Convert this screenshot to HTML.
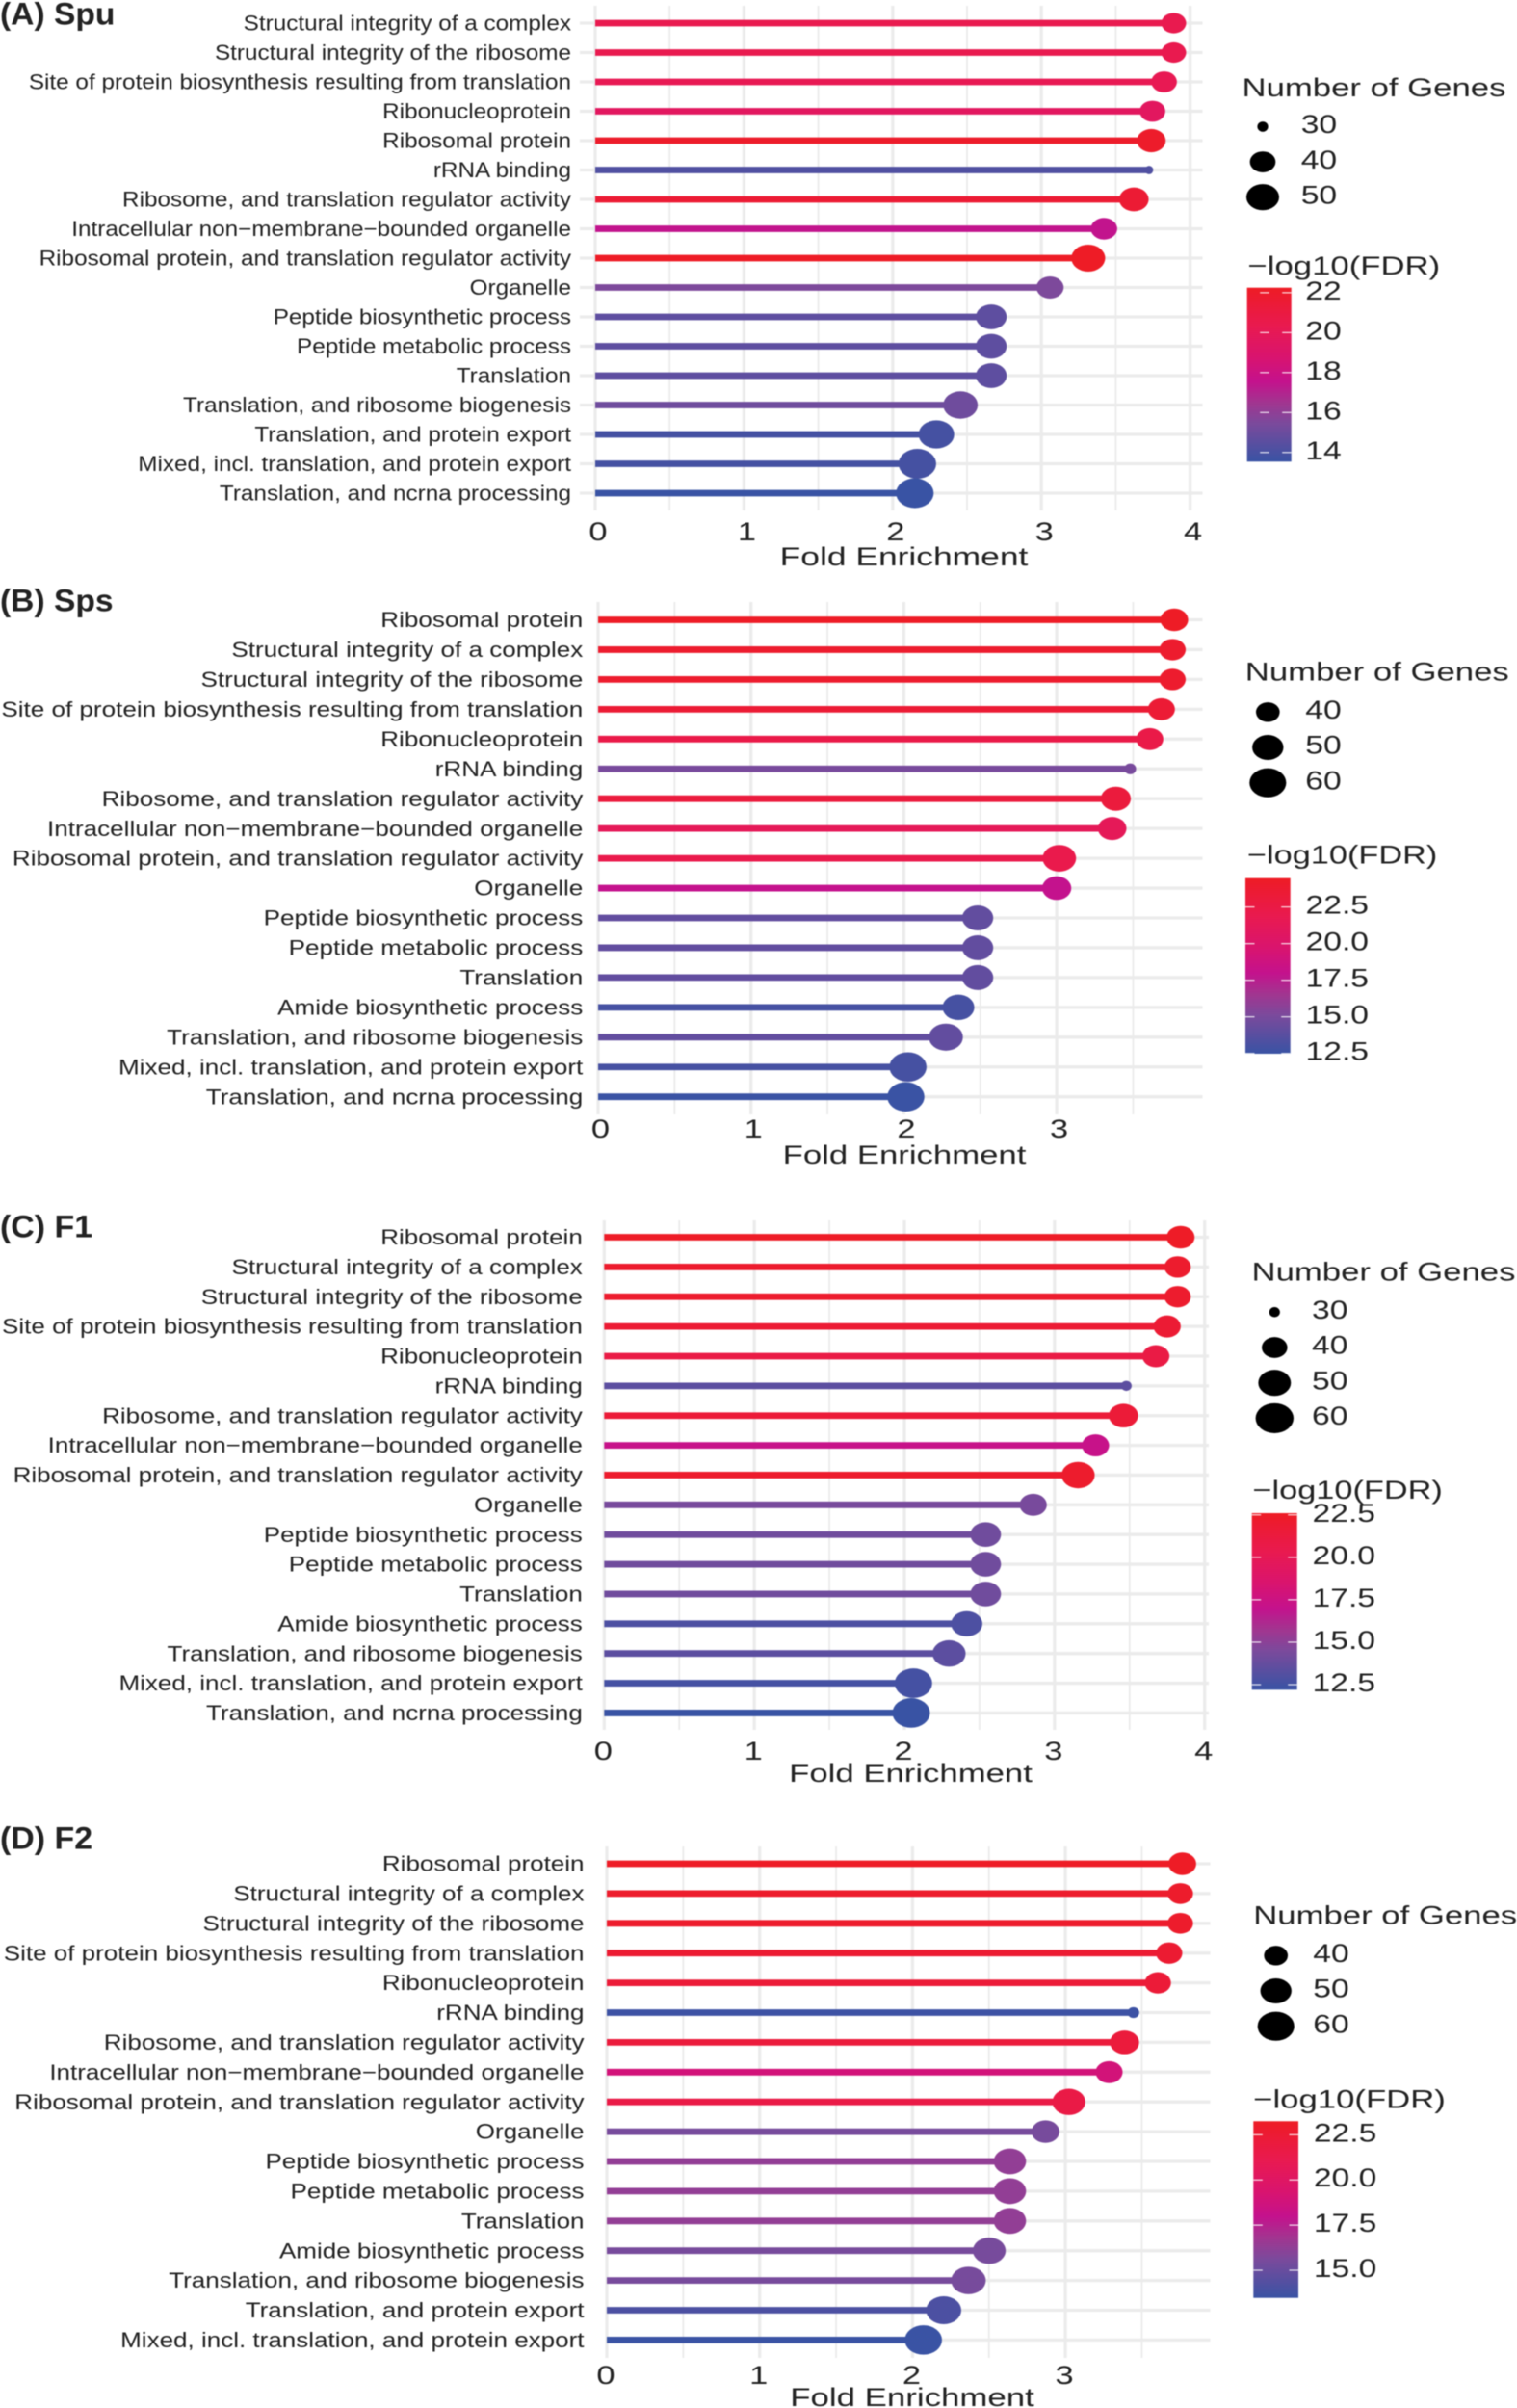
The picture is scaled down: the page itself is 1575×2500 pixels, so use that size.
<!DOCTYPE html>
<html lang="en">
<head>
<meta charset="utf-8">
<title>Fold enrichment lollipop charts</title>
<style>
html,body{margin:0;padding:0;background:#fff;}
svg{display:block;filter:blur(0.4px);}
text{font-family:"Liberation Sans",Arial,sans-serif;fill:#222;}
</style>
</head>
<body>
<svg id="figure" xmlns="http://www.w3.org/2000/svg" width="1575" height="2500" viewBox="0 0 1575 2500">
  <defs>
    <linearGradient id="fdrGradient" x1="0" y1="1" x2="0" y2="0">
      <stop offset="0" stop-color="#3953a4"/>
      <stop offset="0.22" stop-color="#7b4a9c"/>
      <stop offset="0.34" stop-color="#a23590"/>
      <stop offset="0.46" stop-color="#c4128d"/>
      <stop offset="0.6" stop-color="#d9146f"/>
      <stop offset="0.78" stop-color="#e91a50"/>
      <stop offset="1" stop-color="#ee1c25"/>
    </linearGradient>
  </defs>
  <rect width="1575" height="2500" fill="#fff"/>
  <g id="gridLayer"></g>
  <g id="markLayer"></g>
  <g id="textLayer"></g>
  <text transform="translate(0 25.5) scale(1.05 1)" font-size="32" font-weight="700">(A) Spu</text>
  <text transform="translate(0 634.5) scale(1.05 1)" font-size="32" font-weight="700">(B) Sps</text>
  <text transform="translate(0 1284.5) scale(1.06 1)" font-size="32" font-weight="700">(C) F1</text>
  <text transform="translate(0 1919.5) scale(1.06 1)" font-size="32" font-weight="700">(D) F2</text>

  <text transform="translate(938.5 587) scale(1.336 1)" font-size="26.5" text-anchor="middle">Fold Enrichment</text>
  <text transform="translate(939 1208) scale(1.31 1)" font-size="26.5" text-anchor="middle">Fold Enrichment</text>
  <text transform="translate(945.5 1850) scale(1.31 1)" font-size="26.5" text-anchor="middle">Fold Enrichment</text>
  <text transform="translate(947 2498) scale(1.315 1)" font-size="26.5" text-anchor="middle">Fold Enrichment</text>

  <text transform="translate(1289.5 100) scale(1.31 1)" font-size="26.5">Number of Genes</text>
  <text transform="translate(1292.8 706.7) scale(1.31 1)" font-size="26.5">Number of Genes</text>
  <text transform="translate(1299.5 1329.3) scale(1.31 1)" font-size="26.5">Number of Genes</text>
  <text transform="translate(1301.2 1997.7) scale(1.31 1)" font-size="26.5">Number of Genes</text>

  <text transform="translate(1295.5 285) scale(1.31 1)" font-size="26.5">−log10(FDR)</text>
  <text transform="translate(1295 896.7) scale(1.295 1)" font-size="26.5">−log10(FDR)</text>
  <text transform="translate(1300.5 1556) scale(1.295 1)" font-size="26.5">−log10(FDR)</text>
  <text transform="translate(1301.2 2188.3) scale(1.31 1)" font-size="26.5">−log10(FDR)</text>
</svg>
<script>
/* ---------- Panel A: Spu ---------- */
const aCategories = ["Structural integrity of a complex","Structural integrity of the ribosome","Site of protein biosynthesis resulting from translation","Ribonucleoprotein","Ribosomal protein","rRNA binding","Ribosome, and translation regulator activity","Intracellular non−membrane−bounded organelle","Ribosomal protein, and translation regulator activity","Organelle","Peptide biosynthetic process","Peptide metabolic process","Translation","Translation, and ribosome biogenesis","Translation, and protein export","Mixed, incl. translation, and protein export","Translation, and ncrna processing"];
const aFold = [3.89,3.89,3.825,3.747,3.739,3.724,3.622,3.421,3.315,3.058,2.663,2.663,2.663,2.456,2.294,2.166,2.149];
const aGenes = [39,39,40,40,44,29,45,41,52,42,47,47,47,53,55,59,59];
const aFdr = [20.4,20.4,20.2,19.6,22,14.2,21.6,17.5,22.2,15.5,14.6,14.6,14.6,15.1,13.9,13.9,13.5];
const aXTicks = [0,1,2,3,4];
const aXMinor = [0.5,1.5,2.5,3.5];
const aSizeBreaks = [30,40,50];
const aColorBreaks = [22,20,18,16,14];
const aColorLabels = ["22","20","18","16","14"];

/* ---------- Panel B: Sps ---------- */
const bCategories = ["Ribosomal protein","Structural integrity of a complex","Structural integrity of the ribosome","Site of protein biosynthesis resulting from translation","Ribonucleoprotein","rRNA binding","Ribosome, and translation regulator activity","Intracellular non−membrane−bounded organelle","Ribosomal protein, and translation regulator activity","Organelle","Peptide biosynthetic process","Peptide metabolic process","Translation","Amide biosynthetic process","Translation, and ribosome biogenesis","Mixed, incl. translation, and protein export","Translation, and ncrna processing"];
const bFold = [3.769,3.758,3.758,3.685,3.609,3.481,3.387,3.363,3.017,3.0,2.483,2.483,2.483,2.357,2.275,2.027,2.013];
const bGenes = [45,43,43,44,44,32,48,46,54,47,50,50,50,51,55,61,61];
const bFdr = [24.4,23.9,23.9,23.5,22.3,15,23,21.3,22.1,18,14.1,14.1,14.1,13,14.1,13,12.5];
const bXTicks = [0,1,2,3];
const bXMinor = [0.5,1.5,2.5,3.5];
const bSizeBreaks = [40,50,60];
const bColorBreaks = [22.5,20,17.5,15,12.5];
const bColorLabels = ["22.5","20.0","17.5","15.0","12.5"];

/* ---------- Panel C: F1 ---------- */
const cCategories = ["Ribosomal protein","Structural integrity of a complex","Structural integrity of the ribosome","Site of protein biosynthesis resulting from translation","Ribonucleoprotein","rRNA binding","Ribosome, and translation regulator activity","Intracellular non−membrane−bounded organelle","Ribosomal protein, and translation regulator activity","Organelle","Peptide biosynthetic process","Peptide metabolic process","Translation","Amide biosynthetic process","Translation, and ribosome biogenesis","Mixed, incl. translation, and protein export","Translation, and ncrna processing"];
const cFold = [3.84,3.82,3.82,3.75,3.675,3.478,3.459,3.273,3.157,2.858,2.541,2.541,2.541,2.415,2.297,2.06,2.045];
const cGenes = [43,41,41,42,42,30,45,42,51,42,47,47,47,48,51,59,59];
const cFdr = [22.5,22.1,22.1,21.8,20.9,13.4,21.6,17.2,22.2,14.4,14.1,14.1,14.1,12.9,13.4,12.6,12.2];
const cXTicks = [0,1,2,3,4];
const cXMinor = [0.5,1.5,2.5,3.5];
const cSizeBreaks = [30,40,50,60];
const cColorBreaks = [22.5,20,17.5,15,12.5];
const cColorLabels = ["22.5","20.0","17.5","15.0","12.5"];

/* ---------- Panel D: F2 ---------- */
const dCategories = ["Ribosomal protein","Structural integrity of a complex","Structural integrity of the ribosome","Site of protein biosynthesis resulting from translation","Ribonucleoprotein","rRNA binding","Ribosome, and translation regulator activity","Intracellular non−membrane−bounded organelle","Ribosomal protein, and translation regulator activity","Organelle","Peptide biosynthetic process","Peptide metabolic process","Translation","Amide biosynthetic process","Translation, and ribosome biogenesis","Translation, and protein export","Mixed, incl. translation, and protein export"];
const dFold = [3.765,3.752,3.752,3.679,3.605,3.445,3.387,3.286,3.023,2.87,2.637,2.637,2.637,2.502,2.366,2.204,2.071];
const dGenes = [45,42,42,43,43,32,47,44,53,45,52,52,52,53,56,57,61];
const dFdr = [23.2,22.9,22.9,22.6,22.3,13.6,22.1,18.9,21.6,15.5,16.3,16.3,16.3,15.5,15.5,14.1,13.5];
const dXTicks = [0,1,2,3];
const dXMinor = [0.5,1.5,2.5,3.5];
const dSizeBreaks = [40,50,60];
const dColorBreaks = [22.5,20,17.5,15];
const dColorLabels = ["22.5","20.0","17.5","15.0"];

const SVG_NS = "http://www.w3.org/2000/svg";
const gridLayer = document.getElementById("gridLayer");
const markLayer = document.getElementById("markLayer");
const textLayer = document.getElementById("textLayer");
const GRID = "#ebebeb";

const gradientStops = [
  [0, 57, 83, 164],
  [0.22, 123, 74, 156],
  [0.34, 162, 53, 144],
  [0.46, 196, 18, 141],
  [0.6, 217, 20, 111],
  [0.78, 233, 26, 80],
  [1, 238, 28, 37]
];

function make(tag, parent, attrs) {
  const el = document.createElementNS(SVG_NS, tag);
  for (const k in attrs) el.setAttribute(k, attrs[k]);
  parent.appendChild(el);
  return el;
}

function lerp(a, b, t) { return a + (b - a) * t; }

function colorFor(t) {
  let i = 0;
  while (i < gradientStops.length - 2 && t > gradientStops[i + 1][0]) i++;
  const p = gradientStops[i], q = gradientStops[i + 1];
  const f = (t - p[0]) / (q[0] - p[0]);
  return "rgb(" + Math.round(lerp(p[1], q[1], f)) + "," + Math.round(lerp(p[2], q[2], f)) + "," + Math.round(lerp(p[3], q[3], f)) + ")";
}

function verticalRadius(rx) {
  return 4.33 + (rx - 4.33) * 0.73;
}

function drawPanel(id, data, L) {
  const xScale = function (v) { return L.x0 + v * L.unit; };
  const yScale = function (i) { return L.y0 + i * L.step; };
  const colorScale = function (v) { return colorFor(Math.max(0, Math.min(1, (v - L.lo) / (L.hi - L.lo)))); };
  const sizeScale = function (g) { return (L.w0 + L.k * Math.sqrt(Math.max(0, g - L.g0))) / 6; };
  const barScale = function (v) { return L.barTop + (L.hi - v) / (L.hi - L.lo) * (L.barBottom - L.barTop); };

  data.xMinor.forEach(function (v) {
    const el = make("line", gridLayer, { x1: xScale(v), x2: xScale(v), y1: L.gridTop, y2: L.gridBottom, stroke: GRID, "stroke-width": 1.8 });
    
    
  });
  data.xTicks.forEach(function (v) {
    const el = make("line", gridLayer, { x1: xScale(v), x2: xScale(v), y1: L.gridTop, y2: L.gridBottom, stroke: GRID, "stroke-width": 3.2 });
    
    
    const t = make("text", textLayer, { transform: "translate(" + (xScale(v) + L.tickShift) + " " + L.tickBase + ") scale(1.3 1)", "font-size": 26.5, "text-anchor": "middle" });
    t.textContent = String(v);
    
    
  });

  data.categories.forEach(function (name, i) {
    const y = yScale(i);
    const g = make("line", gridLayer, { x1: L.gridLeft, x2: L.gridRight, y1: y, y2: y, stroke: GRID, "stroke-width": 3.3 });
    
    
    const t = make("text", textLayer, { transform: "translate(" + L.labelRight + " " + (y + 7.6) + ") scale(" + L.labelScale + " 1)", "font-size": 22, "text-anchor": "end" });
    t.textContent = name;
    
    
  });

  data.categories.forEach(function (name, i) {
    const seg = make("line", markLayer, { x1: xScale(0), x2: xScale(data.fold[i]), y1: yScale(i), y2: yScale(i), stroke: colorScale(data.fdr[i]), "stroke-width": 6.8 });
    
    
  });
  data.categories.forEach(function (name, i) {
    const rx = sizeScale(data.genes[i]);
    const dot = make("ellipse", markLayer, { cx: xScale(data.fold[i]), cy: yScale(i), rx: rx, ry: verticalRadius(rx), fill: colorScale(data.fdr[i]) });
    
    
  });

  data.sizeBreaks.forEach(function (b, i) {
    const rx = sizeScale(b);
    const dot = make("ellipse", markLayer, { cx: L.sizeX, cy: L.sizeY + i * L.sizeStep, rx: rx, ry: verticalRadius(rx), fill: "#000" });
    
    
    const t = make("text", textLayer, { transform: "translate(" + L.sizeLabelX + " " + (L.sizeY + i * L.sizeStep + 6.7) + ") scale(1.27 1)", "font-size": 26.5 });
    t.textContent = String(b);
    
    
  });

  const bar = make("rect", markLayer, { x: L.barX, y: L.barTop, width: L.barW, height: L.barBottom - L.barTop, fill: "url(#fdrGradient)" });
  
  
  data.colorBreaks.forEach(function (v, i) {
    const y = barScale(v);
    const left = make("line", markLayer, { x1: L.barX + L.tickInset, x2: L.barX + L.tickInset + 9.5, y1: y, y2: y, stroke: "#fff", "stroke-width": 1.2, "stroke-opacity": 0.85 });
    
    
    const right = make("line", markLayer, { x1: L.barX + L.barW - 9.5, x2: L.barX + L.barW, y1: y, y2: y, stroke: "#fff", "stroke-width": 1.2, "stroke-opacity": 0.85 });
    
    
    const t = make("text", textLayer, { transform: "translate(" + L.barLabelRight + " " + (y + 7) + ") scale(1.27 1)", "font-size": 26.5, "text-anchor": "end" });
    t.textContent = data.colorLabels[i];
    
    
  });
}

drawPanel("panel-a",
  { categories: aCategories, fold: aFold, genes: aGenes, fdr: aFdr, xTicks: aXTicks, xMinor: aXMinor, sizeBreaks: aSizeBreaks, colorBreaks: aColorBreaks, colorLabels: aColorLabels },
  { x0: 618, unit: 154.4, y0: 24, step: 30.5, gridTop: 6, gridBottom: 530, gridLeft: 602, gridRight: 1248.5, labelRight: 593, labelScale: 1.105, tickShift: 3, tickBase: 561,
    w0: 26, k: 16.9, g0: 29.8, lo: 13.54, hi: 22.25, sizeX: 1311, sizeY: 131.5, sizeStep: 36.6, sizeLabelX: 1350.7,
    barX: 1294.7, barW: 46, barTop: 298.7, barBottom: 479.3, tickInset: 13.5, barLabelRight: 1392.7 });

drawPanel("panel-b",
  { categories: bCategories, fold: bFold, genes: bGenes, fdr: bFdr, xTicks: bXTicks, xMinor: bXMinor, sizeBreaks: bSizeBreaks, colorBreaks: bColorBreaks, colorLabels: bColorLabels },
  { x0: 621, unit: 158.7, y0: 643.5, step: 30.95, gridTop: 625, gridBottom: 1157, gridLeft: 621, gridRight: 1248.5, labelRight: 605.3, labelScale: 1.185, tickShift: 2.5, tickBase: 1181,
    w0: 26, k: 16.56, g0: 31.6, lo: 12.48, hi: 24.47, sizeX: 1316.3, sizeY: 739.3, sizeStep: 36.7, sizeLabelX: 1355.3,
    barX: 1293, barW: 46.7, barTop: 911.7, barBottom: 1094, tickInset: 0, barLabelRight: 1421 });

drawPanel("panel-c",
  { categories: cCategories, fold: cFold, genes: cGenes, fdr: cFdr, xTicks: cXTicks, xMinor: cXMinor, sizeBreaks: cSizeBreaks, colorBreaks: cColorBreaks, colorLabels: cColorLabels },
  { x0: 627.3, unit: 155.85, y0: 1284.5, step: 30.87, gridTop: 1267, gridBottom: 1796, gridLeft: 627.3, gridRight: 1255, labelRight: 604.8, labelScale: 1.183, tickShift: -1, tickBase: 1827,
    w0: 26, k: 16.8, g0: 29.8, lo: 12.2, hi: 22.6, sizeX: 1323.3, sizeY: 1362.3, sizeStep: 36.7, sizeLabelX: 1362,
    barX: 1299.7, barW: 47, barTop: 1571, barBottom: 1754.3, tickInset: 0, barLabelRight: 1428 });

drawPanel("panel-d",
  { categories: dCategories, fold: dFold, genes: dGenes, fdr: dFdr, xTicks: dXTicks, xMinor: dXMinor, sizeBreaks: dSizeBreaks, colorBreaks: dColorBreaks, colorLabels: dColorLabels },
  { x0: 630, unit: 158.7, y0: 1935, step: 30.9, gridTop: 1917, gridBottom: 2448, gridLeft: 630, gridRight: 1256.5, labelRight: 606.5, labelScale: 1.183, tickShift: -1, tickBase: 2475,
    w0: 26, k: 16.56, g0: 31.6, lo: 13.47, hi: 23.25, sizeX: 1324.7, sizeY: 2030.3, sizeStep: 36.7, sizeLabelX: 1363.3,
    barX: 1301.3, barW: 46.7, barTop: 2202.3, barBottom: 2385.7, tickInset: 0, barLabelRight: 1429.3 });
</script>
</body>
</html>
